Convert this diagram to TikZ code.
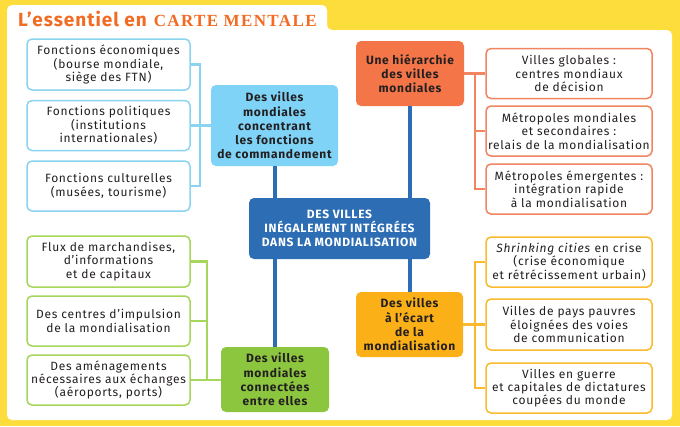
\documentclass[tikz,border=0pt]{standalone}
\usepackage{fontspec}
\setmainfont{Fira Sans}[LetterSpace=6]
\newfontfamily\titlefont[LetterSpace=5]{Fira Sans}
\newfontfamily\capsfont[LetterSpace=8]{Liberation Serif}
\definecolor{bgyellow}{HTML}{FDDD3C}
\definecolor{titleorange}{HTML}{F26B22}
\definecolor{lblue}{HTML}{7ED3F7}
\definecolor{lblueline}{HTML}{8AD4F0}
\definecolor{dblue}{HTML}{2C6DB4}
\definecolor{onode}{HTML}{F47648}
\definecolor{oline}{HTML}{F28560}
\definecolor{gnode}{HTML}{8CC63F}
\definecolor{gline}{HTML}{A6D65A}
\definecolor{ynode}{HTML}{FBB017}
\definecolor{yline}{HTML}{FBBA2D}
\definecolor{txt}{HTML}{231F20}
\tikzset{
  leaf/.style={draw=#1, line width=1.5pt, fill=white, rounded corners=5pt, inner sep=0pt, align=center, text=txt, font=\fontsize{12}{13.4}\selectfont},
  hub/.style={fill=#1, rounded corners=5pt, inner sep=0pt, align=center, text=txt, font=\bfseries\fontsize{12}{14.2}\selectfont},
  link/.style={draw=#1, line width=2.5pt},
  trunk/.style={draw=dblue, line width=4pt}
}
\begin{document}
\begin{tikzpicture}[x=1pt,y=-1pt]
\useasboundingbox (0,0) rectangle (680,426);
\fill[bgyellow] (0,0) rectangle (680,426);
\fill[white, rounded corners=5pt] (7,420) -- (7,5) -- (327,5) -- (327,30) -- (672,30) -- (672,420) -- cycle;
\node[anchor=base west, inner sep=0pt, text=titleorange] (title) at (18,26)
  {\titlefont\fontsize{19}{19}\selectfont\bfseries L’essentiel en\hspace{7pt}{\capsfont\fontsize{17}{17}\selectfont\bfseries CARTE MENTALE}};

% center
\node[fill=dblue, rounded corners=5pt, inner sep=0pt, align=center, text=white,
  font=\bfseries\fontsize{12}{14.2}\selectfont, minimum width=181pt, minimum height=61pt] (c) at (339.5,228.5)
  {DES VILLES\\INÉGALEMENT INTÉGRÉES\\DANS LA MONDIALISATION};

% blue branch
\node[hub=lblue, minimum width=127pt, minimum height=81pt] (bh) at (274.5,125.5)
  {Des villes\\mondiales\\concentrant\\les fonctions\\de commandement};
\node[leaf=lblueline, minimum width=163pt, minimum height=51pt] (b1) at (108.5,64.5)
  {Fonctions économiques\\(bourse mondiale,\\siège des FTN)};
\node[leaf=lblueline, minimum width=163pt, minimum height=50pt] (b2) at (108.5,125.5)
  {Fonctions politiques\\(institutions\\internationales)};
\node[leaf=lblueline, minimum width=163pt, minimum height=50pt] (b3) at (108.5,186)
  {Fonctions culturelles\\(musées, tourisme)};
\coordinate (bj) at (200,0);
\draw[link=lblueline] (b1.east) -- (b1.east -| bj) -- (b3.east -| bj) -- (b3.east);
\draw[link=lblueline] (b2.east) -- (bh.west);

% orange branch
\node[hub=onode, minimum width=108pt, minimum height=65pt] (oh) at (410,73.5)
  {Une hiérarchie\\des villes\\mondiales};
\node[leaf=oline, minimum width=166pt, minimum height=50pt] (o1) at (569,73.5)
  {Villes globales :\\centres mondiaux\\de décision};
\node[leaf=oline, minimum width=166pt, minimum height=50pt] (o2) at (569,131)
  {Métropoles mondiales\\et secondaires :\\relais de la mondialisation};
\node[leaf=oline, minimum width=166pt, minimum height=50pt] (o3) at (569,189)
  {Métropoles émergentes :\\intégration rapide\\à la mondialisation};
\coordinate (oj) at (475,0);
\draw[link=oline] (oh.east) -- (o1.west);
\draw[link=oline] (o1.west -| oj) -- (o3.west -| oj) -- (o3.west);
\draw[link=oline] (o2.west -| oj) -- (o2.west);

% green branch
\node[hub=gnode, minimum width=108pt, minimum height=65pt] (gh) at (275,379.5)
  {Des villes\\mondiales\\connectées\\entre elles};
\node[leaf=gline, minimum width=163pt, minimum height=51pt] (g1) at (108.5,261.5)
  {Flux de marchandises,\\d’informations\\et de capitaux};
\node[leaf=gline, minimum width=163pt, minimum height=50pt] (g2) at (108.5,321)
  {Des centres d’impulsion\\de la mondialisation};
\node[leaf=gline, minimum width=163pt, minimum height=50pt] (g3) at (108.5,380)
  {Des aménagements\\nécessaires aux échanges\\(aéroports, ports)};
\coordinate (gj) at (207,0);
\draw[link=gline] (g1.east) -- (g1.east -| gj) -- (g3.east -| gj);
\draw[link=gline] (g2.east) -- (g2.east -| gj);
\draw[link=gline] (g3.east) -- (gh.west |- g3.east);

% yellow branch
\node[hub=ynode, minimum width=107pt, minimum height=65pt] (yh) at (409.5,324.5)
  {Des villes\\à l’écart\\de la\\mondialisation};
\node[leaf=yline, minimum width=166pt, minimum height=50pt] (y1) at (569,262)
  {\textit{Shrinking cities} en crise\\(crise économique\\et rétrécissement urbain)};
\node[leaf=yline, minimum width=166pt, minimum height=51pt] (y2) at (569,324.5)
  {Villes de pays pauvres\\éloignées des voies\\de communication};
\node[leaf=yline, minimum width=166pt, minimum height=50pt] (y3) at (569,388)
  {Villes en guerre\\et capitales de dictatures\\coupées du monde};
\coordinate (yj) at (475,0);
\draw[link=yline] (yh.east) -- (y2.west);
\draw[link=yline] (y1.west) -- (y1.west -| yj) -- (y3.west -| yj) -- (y3.west);

% trunks
\draw[trunk] (bh.south) -- (bh.south |- c.north);
\draw[trunk] (oh.south) -- (oh.south |- c.north);
\draw[trunk] (c.south -| gh.north) -- (gh.north);
\draw[trunk] (c.south -| yh.north) -- (yh.north);
\end{tikzpicture}
\end{document}
